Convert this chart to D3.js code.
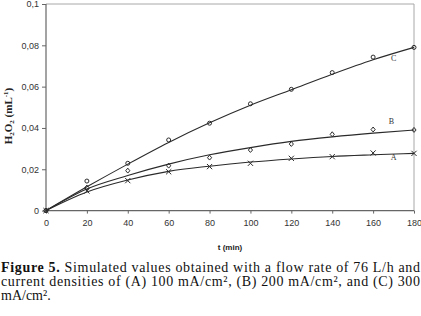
<!DOCTYPE html>
<html>
<head>
<meta charset="utf-8">
<script src="https://cdn.jsdelivr.net/npm/d3@7"></script>
<style>
  body { margin: 0; background: #fff; }
  svg { display: block; }
</style>
</head>
<body>
<script>
// time points (min)
const times = [0, 20, 40, 60, 80, 100, 120, 140, 160, 180];

// measured points (markers)
const pointsA = [0, 0.0095, 0.0145, 0.0188, 0.0213, 0.0229, 0.0253, 0.0261, 0.0279, 0.0277];
const pointsB = [0, 0.0111, 0.0193, 0.0217, 0.0256, 0.0293, 0.0322, 0.0369, 0.0392, 0.0390];
const pointsC = [0, 0.0143, 0.0229, 0.0342, 0.0423, 0.0517, 0.0587, 0.0668, 0.0743, 0.0790];

// simulated curves
const curveA = [0, 0.0090, 0.0148, 0.0190, 0.0215, 0.0235, 0.0250, 0.0262, 0.0270, 0.0277];
const curveB = [0, 0.0105, 0.0170, 0.0225, 0.0270, 0.0305, 0.0335, 0.0357, 0.0375, 0.0390];
const curveC = [0, 0.0115, 0.0225, 0.0330, 0.0425, 0.0510, 0.0585, 0.0660, 0.0730, 0.0790];

const yTicks = [0, 0.02, 0.04, 0.06, 0.08, 0.1];
const yTickLabels = ["0", "0,02", "0,04", "0,06", "0,08", "0,1"];
const xTicks = [0, 20, 40, 60, 80, 100, 120, 140, 160, 180];

const seriesNames = ["A", "B", "C"];

const captionLines = [
  "Figure 5. Simulated values obtained with a flow rate of 76 L/h and",
  "current densities of (A) 100 mA/cm², (B) 200 mA/cm², and (C) 300",
  "mA/cm²."
];

const width = 421, height = 316;
const svg = d3.select("body").append("svg")
    .attr("width", width)
    .attr("height", height);

let x = d3.scaleLinear().domain([0, 180]).range([46, 414]);
let y = d3.scaleLinear().domain([0, 0.1]).range([210.6, 4]);

// frame (top / right)
svg.append("path")
    .attr("d", `M${x(0)},${y(0.1)}H${x(180)}V${y(0)}`)
    .attr("fill", "none")
    .attr("stroke", "#a8a8a8")
    .attr("stroke-width", 1);

// axes
let yAxis = d3.axisLeft(y).tickValues(yTicks)
    .tickFormat((d, i) => yTickLabels[i]).tickSize(4).tickPadding(3);
let yg = svg.append("g").attr("transform", `translate(${x(0)},0)`).call(yAxis);

let xAxis = d3.axisBottom(x).tickValues(xTicks).tickSize(3).tickPadding(6);
let xg = svg.append("g").attr("transform", `translate(0,${y(0)})`).call(xAxis);

[yg, xg].forEach(g => {
    g.select(".domain").attr("stroke", "#666").attr("stroke-width", 1.2);
    g.selectAll(".tick line").attr("stroke", "#666");
    g.selectAll("text")
        .attr("fill", "#333")
        .style("font-family", "'Liberation Sans', Arial, sans-serif")
        .style("font-size", "9px");
});
yg.select(".domain").attr("d", `M0,${y(0)}V${y(0.1)}`);
xg.select(".domain").attr("d", `M${x(0)},0H${x(180)}`);

// curves
let lineGen = d3.line()
    .x((d, i) => x(times[i]))
    .y(d => y(d))
    .curve(d3.curveMonotoneX);

svg.append("g")
    .selectAll("path")
    .data([curveA, curveB, curveC])
    .enter()
    .append("path")
    .attr("d", d => lineGen(d))
    .attr("fill", "none")
    .attr("stroke", "#2a2a2a")
    .attr("stroke-width", 1.1);

// markers
let mk = svg.append("g")
    .attr("fill", "none")
    .attr("stroke", "#2a2a2a")
    .attr("stroke-width", 1);

mk.selectAll("path.a")
    .data(pointsA)
    .enter()
    .append("path")
    .attr("class", "a")
    .attr("d", (d, i) => {
        let cx = x(times[i]), cy = y(d), s = 2.6;
        return `M${cx - s},${cy - s}L${cx + s},${cy + s}M${cx - s},${cy + s}L${cx + s},${cy - s}`;
    });

mk.selectAll("path.b")
    .data(pointsB)
    .enter()
    .append("path")
    .attr("class", "b")
    .attr("d", (d, i) => {
        let cx = x(times[i]), cy = y(d), s = 2.6;
        return `M${cx},${cy - s}L${cx + s * 0.8},${cy}L${cx},${cy + s * 0.9}L${cx - s * 0.8},${cy}Z`;
    });

mk.selectAll("circle")
    .data(pointsC)
    .enter()
    .append("circle")
    .attr("cx", (d, i) => x(times[i]))
    .attr("cy", d => y(d))
    .attr("r", 2);

// series labels
const labelPos = [[170, 0.0245], [169, 0.042], [170, 0.0725]];
svg.append("g")
    .selectAll("text")
    .data(seriesNames)
    .enter()
    .append("text")
    .attr("x", (d, i) => x(labelPos[i][0]))
    .attr("y", (d, i) => y(labelPos[i][1]))
    .attr("text-anchor", "middle")
    .attr("fill", "#333")
    .style("font-family", "'Liberation Serif', 'Times New Roman', serif")
    .style("font-size", "8px")
    .text(d => d);

// axis titles
svg.append("text")
    .attr("x", 230)
    .attr("y", 250)
    .attr("text-anchor", "middle")
    .attr("fill", "#222")
    .style("font-family", "'Liberation Sans', Arial, sans-serif")
    .style("font-size", "8px")
    .style("font-weight", "bold")
    .text("t (min)");

let yt = svg.append("text")
    .attr("transform", "translate(12,116) rotate(-90)")
    .attr("text-anchor", "middle")
    .attr("fill", "#222")
    .style("font-family", "'Liberation Serif', 'Times New Roman', serif")
    .style("font-size", "11px")
    .style("font-weight", "bold");
yt.append("tspan").text("H");
yt.append("tspan").attr("dy", 2).style("font-size", "7px").text("2");
yt.append("tspan").attr("dy", -2).text("O");
yt.append("tspan").attr("dy", 2).style("font-size", "7px").text("2");
yt.append("tspan").attr("dy", -2).text(" (mL");
yt.append("tspan").attr("dy", -4).style("font-size", "7px").text("-1");
yt.append("tspan").attr("dy", 4).text(")");

// caption
let cap = svg.append("g")
    .style("font-family", "'Liberation Serif', 'Times New Roman', serif")
    .style("font-size", "14px")
    .attr("fill", "#111");

cap.selectAll("text")
    .data(captionLines)
    .enter()
    .append("text")
    .attr("x", 1)
    .attr("y", (d, i) => 272 + i * 14)
    .each(function(d, i) {
        let t = d3.select(this);
        if (i < 2) t.attr("textLength", 419).attr("lengthAdjust", "spacing");
        if (i === 0) {
            t.append("tspan").style("font-weight", "bold").text("Figure 5.");
            t.append("tspan").text(d.slice(9));
        } else {
            t.text(d);
        }
    });
</script>
</body>
</html>
